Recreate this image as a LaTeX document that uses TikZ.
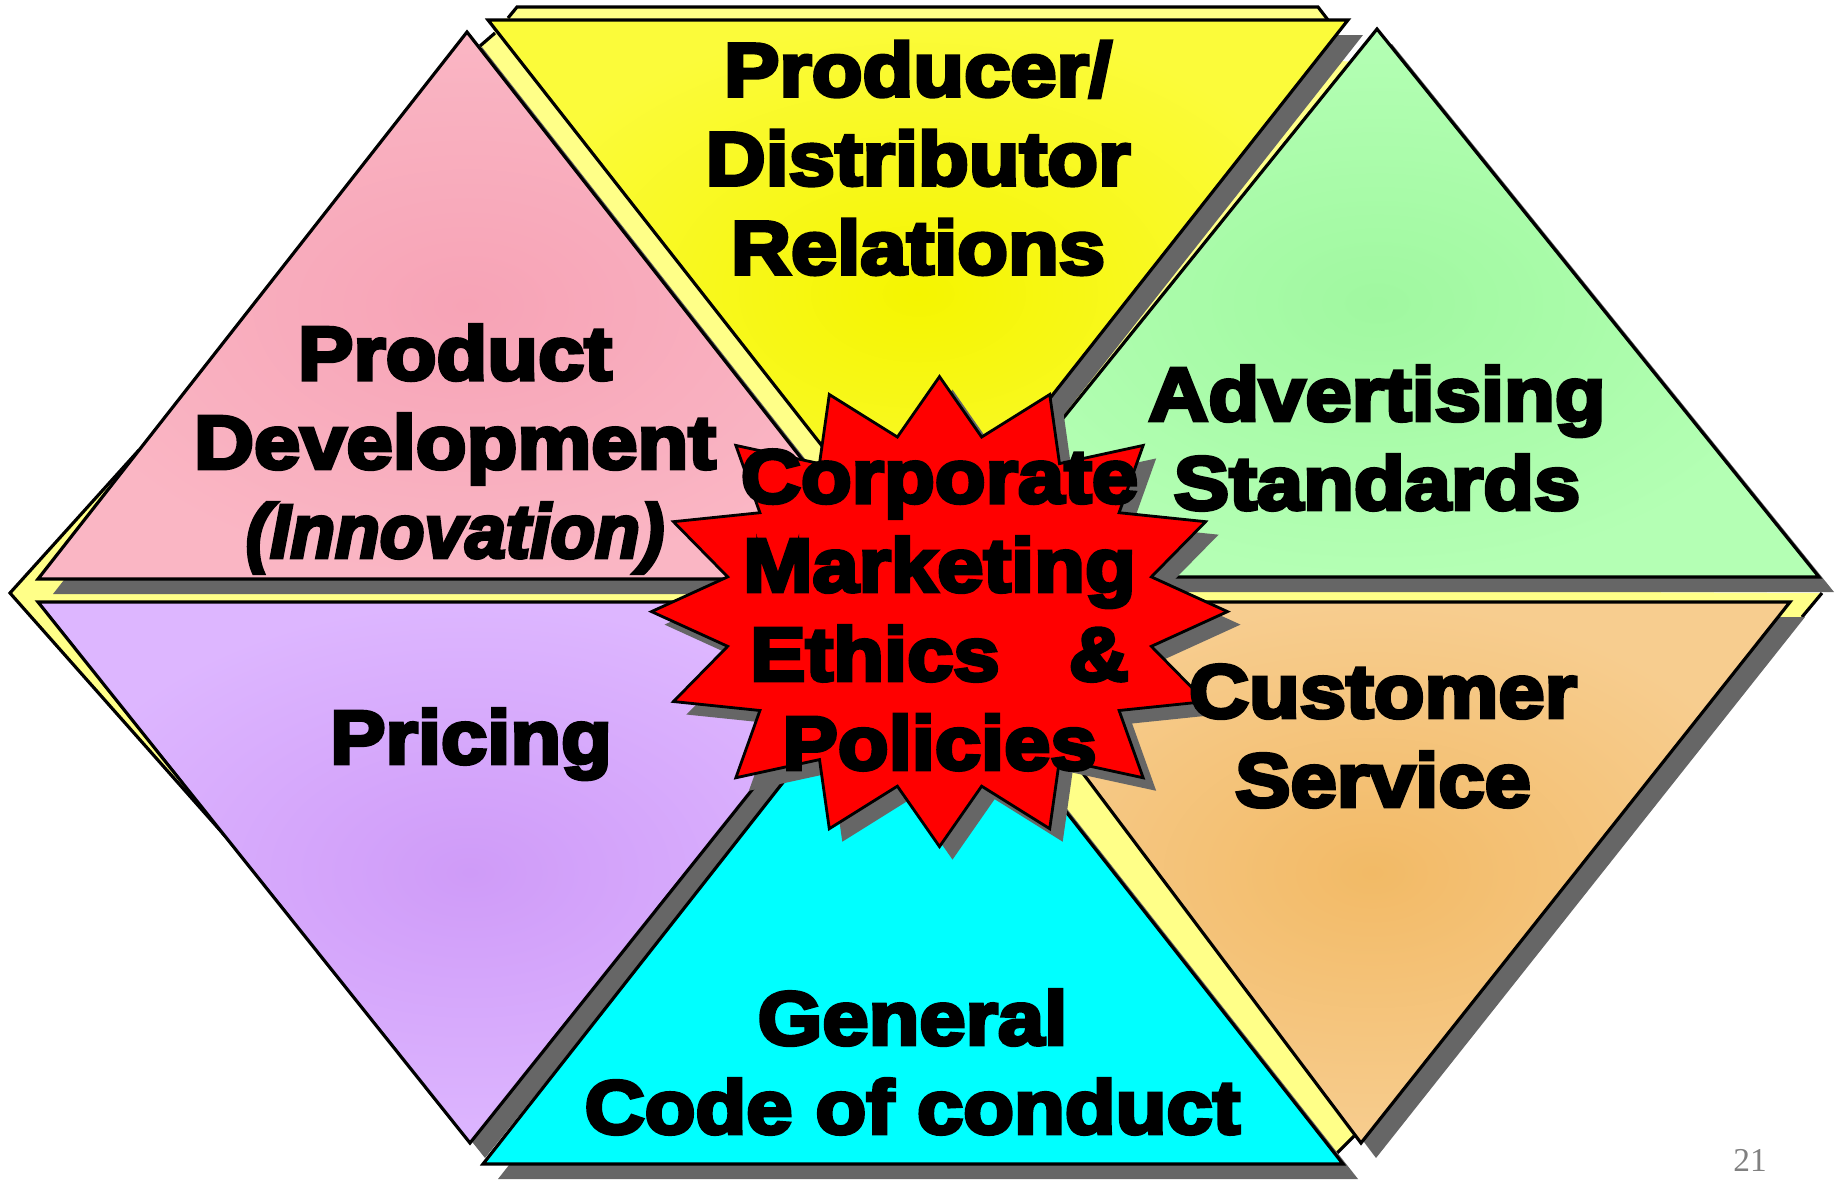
\documentclass[tikz,border=0pt]{standalone}
\usepackage{fontspec}
\usepackage{graphicx}
\newfontfamily\heavy{Liberation Sans}[FakeStretch=1.10, FakeBold=5]
\newfontfamily\numfont{Liberation Serif}

\definecolor{pale}{HTML}{FFFF88}
\definecolor{ombregris}{HTML}{666666}
\definecolor{rosein}{HTML}{F7A3B6}
\definecolor{roseout}{HTML}{FAB6C4}
\definecolor{jauneint}{HTML}{F5F500}
\definecolor{jauneext}{HTML}{FBFB3A}
\definecolor{vertin}{HTML}{A0F8A0}
\definecolor{vertout}{HTML}{B4FFB4}
\definecolor{violetin}{HTML}{CF9BF8}
\definecolor{violetout}{HTML}{DDB6FF}
\definecolor{orangein}{HTML}{F2BA66}
\definecolor{orangeout}{HTML}{F7CD8F}
\definecolor{cyanplein}{HTML}{00FFFF}

\tikzset{
  face/.style 2 args={draw=black, line width=1.8pt, shading=radial,
    inner color=#1, outer color=#2,
    preaction={fill=ombregris, transform canvas={shift={(15,15)}}}},
  fond/.style={fill=pale},
  bord/.style={draw=black, line width=1.8pt},
  etoile/.style={draw=black, line width=1.6pt, fill=red,
    preaction={fill=ombregris, transform canvas={shift={(13,13)}}}},
  texte/.style={font={\heavy\bfseries\fontsize{43}{50.6}\selectfont},
    align=center, inner sep=0pt},
  numero/.style={font={\numfont\fontsize{19}{22}\selectfont},
    text=black!50, inner sep=0pt}
}

\begin{document}
\begin{tikzpicture}[x=0.2mm, y=-0.2mm]
\useasboundingbox (0,0) rectangle (1841,1192);

% Le fond jaune pale (les cotes en relief)
\fill[fond] (480,46) -- (495,33) -- (490,22) -- (508,18) -- (517,7) -- (1318,7)
  -- (1328,20) -- (1330,24) -- (1310,60) -- (1365,62) -- (1000,560) -- (900,550)
  -- (840,540) -- (800,520) -- (760,480) -- (470,60) -- cycle;
\draw[bord] (480,46) -- (495,33);
\draw[bord] (508,18) -- (517,7) -- (1318,7) -- (1328,20);

\fill[fond] (139,450) -- (160,470) -- (62,592) -- (700,592) -- (700,612)
  -- (260,850) -- (226,837) -- (10,593) -- cycle;
\draw[bord] (226,837) -- (10,593) -- (139,450);

\fill[fond] (1185,590) -- (1822,593) -- (1802,617) -- (1185,617) -- cycle;
\draw[bord] (1822,593) -- (1802,617);

\fill[fond] (1000,720) -- (1150,760) -- (1370,1120) -- (1354,1136) -- (1337,1153)
  -- (1300,1140) -- (950,700) -- cycle;
\draw[bord] (1354,1136) -- (1337,1153);

% Les six triangles
\draw[face={rosein}{roseout}] (467,32) -- (896,579) -- (38,579) -- cycle;
\draw[face={jauneint}{jauneext}] (488,20) -- (1348,20) -- (917,567) -- cycle;
\draw[face={vertin}{vertout}] (1377,29) -- (1819,577) -- (935,577) -- cycle;
\draw[face={violetin}{violetout}] (38,602) -- (902,602) -- (470,1143) -- cycle;
\draw[face={orangein}{orangeout}] (954,602) -- (1790,602) -- (1361,1143) -- cycle;
\draw[face={cyanplein}{cyanplein}] (913,617) -- (1343,1164) -- (483,1164) -- cycle;

% L'etoile
\begin{scope}[shift={(939.5,611.6)}]
  \filldraw[etoile] (90:288 and 235)
    \foreach \k in {1,...,16} { -- ({90+22.5*\k-11.25}:216 and 178) -- ({90+22.5*\k}:288 and 235) }
    -- cycle;
\end{scope}

% Les textes
\node[texte] (producteur) at (918,158) {Producer/\\Distributor\\Relations};
\node[texte] (produit) at (455,449) {Product\\Development\\\scalebox{0.88}[1]{\itshape(Innovation)}};
\node[texte] (pub) at (1377,438) {Advertising\\Standards};
\node[texte, anchor=base] (prix) at (471,763.5) {Pricing};
\node[texte] (client) at (1383,736) {Customer\\Service};
\node[texte] (code) at (912.5,1062) {General\\Code of conduct};
\node[texte] (ethique) at (939.5,610) {Corporate\\Marketing\\Ethics~~~\&\\Policies};
\node[numero, anchor=base] (page) at (1750,1171) {21};
\end{tikzpicture}
\end{document}
